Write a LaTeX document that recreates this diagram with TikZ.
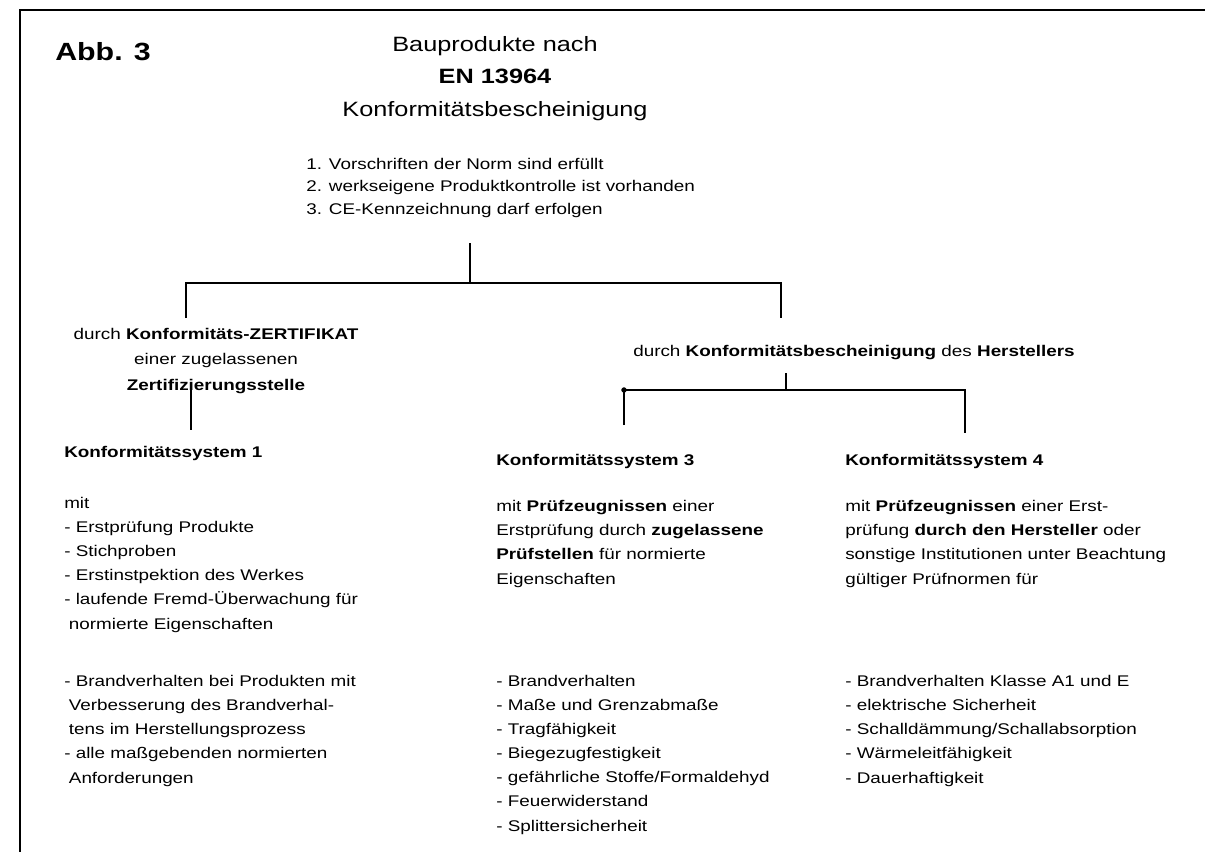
\documentclass[tikz,border=0pt]{standalone}
\usepackage{fontspec}
\setmainfont{Liberation Sans}[FakeStretch=1.22]
\usetikzlibrary{positioning}
\tikzset{
  body/.style={anchor=base west, align=left, inner sep=0pt, font=\fontsize{11}{17.1}\selectfont},
  head/.style={anchor=base west, inner sep=0pt, font=\fontsize{11}{15}\selectfont\bfseries},
  ttl/.style={anchor=base, align=center, inner sep=0pt, font=\fontsize{14.75}{23.1}\selectfont},
  tree/.style={line width=2.1pt},
}

\begin{document}
\begin{tikzpicture}
    \useasboundingbox (0,0) rectangle (30.125,-21.3);
    % frame
    \draw[line width=1.4pt] (0.5,-21.3) -- (0.5,-0.25) -- (30.125,-0.25);

    % multi-line nodes sit on the baseline of their last line
    \node[anchor=base west, inner sep=0pt, font=\fontsize{17.7}{20}\selectfont\bfseries] (abb) at (1.375,-1.5) {Abb. 3};
    \node[ttl] (title) at (12.375,-2.9) {Bauprodukte nach\\\textbf{EN 13964}\\Konformitätsbescheinigung};
    \node[body, font=\fontsize{11}{16}\selectfont] (rules) at (7.65,-5.35)
        {1. Vorschriften der Norm sind erfüllt\\2. werkseigene Produktkontrolle ist vorhanden\\3. CE-Kennzeichnung darf erfolgen};

    % first split
    \coordinate (root) at (11.75,-6.075);
    \coordinate (rootj) at (11.75,-7.075);
    \coordinate (zertj) at (4.65,-7.075);
    \coordinate (herstj) at (19.525,-7.075);
    \coordinate (zertend) at (4.65,-7.95);
    \coordinate (herstend) at (19.525,-7.95);
    \draw[tree] (root) -- (rootj);
    \draw[tree] (zertend) -- (zertj) -- (herstj) -- (herstend);

    \node[body, anchor=base, align=center, font=\fontsize{11}{18.1}\selectfont] (zert) at (5.4,-9.75)
        {durch \textbf{Konformitäts-ZERTIFIKAT}\\einer zugelassenen\\\textbf{Zertifizierungsstelle}};
    \node[body] (herst) at (15.825,-8.9)
        {durch \textbf{Konformitätsbescheinigung} des \textbf{Herstellers}};

    % second split
    \coordinate (zerttop) at (4.775,-9.625);
    \coordinate (zertbot) at (4.775,-10.75);
    \draw[tree] (zerttop) -- (zertbot);
    \coordinate (herstj2) at (19.65,-9.325);
    \coordinate (split) at (19.65,-9.75);
    \coordinate (drei) at (15.6,-9.75);
    \coordinate (vier) at (24.125,-9.75);
    \coordinate (dreiend) at (15.6,-10.625);
    \coordinate (vierend) at (24.125,-10.825);
    \draw[tree] (herstj2) -- (split);
    \draw[tree] (dreiend) -- (drei) -- (vier) -- (vierend);
    \filldraw[black] (drei) circle (0.06);

    % system 1
    \node[head] (sysone) at (1.6,-11.425) {Konformitätssystem 1};
    \node[body] (sysonemit) at (1.6,-15.725)
        {mit\\- Erstprüfung Produkte\\- Stichproben\\- Erstinstpektion des Werkes\\- laufende Fremd-Überwachung für\\\hspace*{0.3em}normierte Eigenschaften};
    \node[body] (sysonelist) at (1.6,-19.575)
        {- Brandverhalten bei Produkten mit\\\hspace*{0.3em}Verbesserung des Brandverhal-\\\hspace*{0.3em}tens im Herstellungsprozess\\- alle maßgebenden normierten\\\hspace*{0.3em}Anforderungen};

    % system 3
    \node[head] (systhree) at (12.4,-11.625) {Konformitätssystem 3};
    \node[body] (systhreemit) at (12.4,-14.6)
        {mit \textbf{Prüfzeugnissen} einer\\Erstprüfung durch \textbf{zugelassene}\\\textbf{Prüfstellen} für normierte\\Eigenschaften};
    \node[body] (systhreelist) at (12.4,-20.775)
        {- Brandverhalten\\- Maße und Grenzabmaße\\- Tragfähigkeit\\- Biegezugfestigkeit\\- gefährliche Stoffe/Formaldehyd\\- Feuerwiderstand\\- Splittersicherheit};

    % system 4
    \node[head] (sysfour) at (21.125,-11.625) {Konformitätssystem 4};
    \node[body] (sysfourmit) at (21.125,-14.6)
        {mit \textbf{Prüfzeugnissen} einer Erst-\\prüfung \textbf{durch den Hersteller} oder\\sonstige Institutionen unter Beachtung\\gültiger Prüfnormen für};
    \node[body] (sysfourlist) at (21.125,-19.575)
        {- Brandverhalten Klasse A1 und E\\- elektrische Sicherheit\\- Schalldämmung/Schallabsorption\\- Wärmeleitfähigkeit\\- Dauerhaftigkeit};
\end{tikzpicture}
\end{document}
